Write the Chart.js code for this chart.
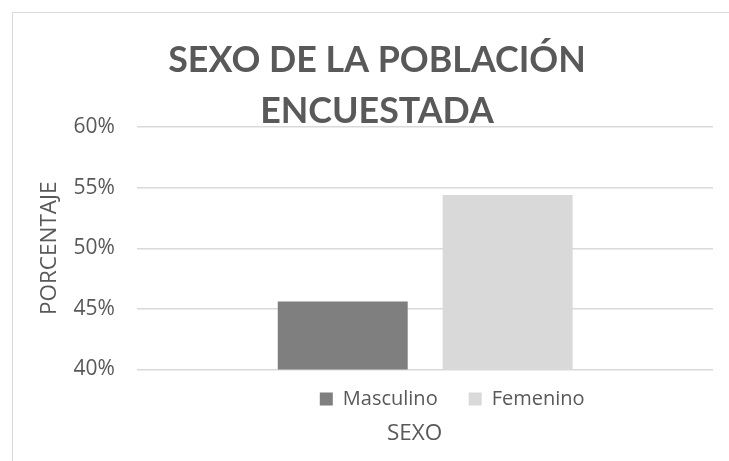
<!DOCTYPE html>
<html>
<head>
<meta charset="utf-8">
<script src="https://cdn.jsdelivr.net/npm/chart.js@4.4.0/dist/chart.umd.min.js"></script>
<style>
  html, body { margin: 0; padding: 0; background: #fff; }
  #wrap { position: relative; width: 729px; height: 461px; overflow: hidden; }
  #frame { position: absolute; left: 12px; top: 12px; width: 800px; height: 600px; border: 1px solid #d9d9d9; pointer-events: none; }
  canvas { position: absolute; left: 0; top: 0; }
</style>
</head>
<body>
<div id="wrap">
  <canvas id="chart" width="729" height="461"></canvas>
  <div id="frame"></div>
</div>
<script>
  // data
  const TITLE = ['SEXO DE LA POBLACIÓN', 'ENCUESTADA'];
  const X_TITLE = 'SEXO';
  const Y_TITLE = 'PORCENTAJE';
  const CATEGORIES = [''];
  const SERIES = ['Masculino', 'Femenino'];
  const MASCULINO = [45.6];
  const FEMENINO = [54.4];
  const Y_TICKS = [40, 45, 50, 55, 60];

  const GREY_TEXT = '#595959';

  // moves the title, legend and subtitle boxes after layout (Excel puts them off-centre)
  const nudge = {
    id: 'nudge',
    afterLayout(chart, args, opts) {
      const shift = (box, d) => {
        if (!box || !d) return;
        box.left += d[0]; box.right += d[0];
        box.top += d[1]; box.bottom += d[1];
      };
      const sub = chart.boxes.find(b => b !== chart.titleBlock && chart.titleBlock && b.constructor === chart.titleBlock.constructor);
      shift(chart.titleBlock, opts.title);
      shift(chart.legend, opts.legend);
      shift(sub, opts.subtitle);
    }
  };

  new Chart(document.getElementById('chart'), {
    type: 'bar',
    data: {
      labels: CATEGORIES,
      datasets: [
        { label: SERIES[0], data: MASCULINO, backgroundColor: '#7f7f7f', borderColor: '#7f7f7f', borderWidth: 0 },
        { label: SERIES[1], data: FEMENINO, backgroundColor: '#d9d9d9', borderColor: '#d9d9d9', borderWidth: 0 }
      ]
    },
    options: {
      responsive: false,
      animation: false,
      events: [],
      categoryPercentage: 0.573,
      barPercentage: 0.788,
      layout: { padding: { left: 30, right: 16, top: 0, bottom: 0 } },
      scales: {
        x: {
          ticks: { display: false },
          grid: { display: false, drawTicks: false },
          border: { display: false }
        },
        y: {
          min: Y_TICKS[0],
          max: Y_TICKS[Y_TICKS.length - 1],
          afterBuildTicks: s => { s.ticks = Y_TICKS.map(v => ({ value: v })); },
          ticks: {
            padding: 22.5,
            color: GREY_TEXT,
            font: { family: 'Open Sans', size: 21 },
            callback: v => v + '%'
          },
          grid: { color: '#d9d9d9', lineWidth: 1.5, drawTicks: false },
          border: { display: false },
          title: {
            display: true,
            text: Y_TITLE,
            color: GREY_TEXT,
            font: { family: 'Open Sans', size: 22.5 },
            padding: { top: 6.5, bottom: -12.5 }
          }
        }
      },
      plugins: {
        title: {
          display: true,
          text: TITLE,
          color: GREY_TEXT,
          font: { family: 'Lato', weight: 'bold', size: 35.8, lineHeight: 51 / 35.8 },
          padding: { top: 35, bottom: -10 }
        },
        subtitle: {
          display: true,
          position: 'bottom',
          fullSize: false,
          text: X_TITLE,
          color: GREY_TEXT,
          font: { family: 'Open Sans', size: 22.5 },
          padding: { top: 0, bottom: 3.5 }
        },
        legend: {
          position: 'bottom',
          fullSize: false,
          labels: {
            color: GREY_TEXT,
            font: { family: 'Open Sans', size: 20 },
            boxWidth: 13,
            boxHeight: 13,
            padding: 31
          }
        },
        tooltip: { enabled: false },
        nudge: { title: [5.5, 0], legend: [27, -11.5], subtitle: [-10.5, -10.5] }
      }
    },
    plugins: [nudge]
  });
</script>
</body>
</html>
